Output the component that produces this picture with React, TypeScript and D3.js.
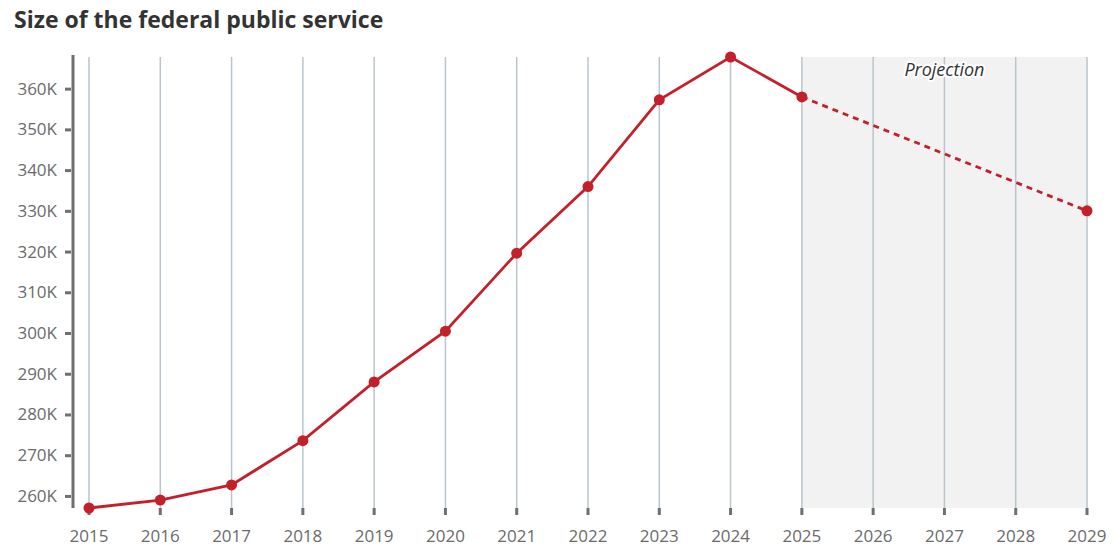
import * as d3 from "d3";
import React, { useEffect, useRef } from "react";

const years = [2015, 2016, 2017, 2018, 2019, 2020, 2021, 2022, 2023, 2024, 2025, 2026, 2027, 2028, 2029];
const actualYears = [2015, 2016, 2017, 2018, 2019, 2020, 2021, 2022, 2023, 2024, 2025];
const actualValues = [257034, 258979, 262696, 273571, 287983, 300450, 319601, 335957, 357247, 367772, 357965];
const projectionYears = [2025, 2029];
const projectionValues = [357965, 330000];
const yTicks = [260000, 270000, 280000, 290000, 300000, 310000, 320000, 330000, 340000, 350000, 360000];

const RED = "#c4202b";

export default function App() {
  const ref = useRef<SVGSVGElement>(null);

  useEffect(() => {
    const svg = d3.select(ref.current);
    svg.selectAll("*").remove();

    const margin = { top: 57, right: 33, bottom: 50, left: 73 };
    const height = 558;
    const top = margin.top;
    const bottom = height - margin.bottom;

    // title
    svg
      .append("text")
      .attr("x", 14)
      .attr("y", 28)
      .attr("font-family", "'Open Sans', sans-serif")
      .attr("font-weight", 700)
      .attr("font-size", 23)
      .attr("fill", "#333")
      .text("Size of the federal public service");

    const x = d3.scaleLinear().domain([2015, 2029]).range([89, 1087]);
    const all = actualValues.concat(projectionValues);
    const y = d3
      .scaleLinear()
      .domain([d3.min(all)!, d3.max(all)!])
      .range([bottom, top]);

    // projection shading
    svg
      .append("rect")
      .attr("x", x(2025))
      .attr("y", top)
      .attr("width", x(2029) - x(2025))
      .attr("height", bottom - top)
      .attr("fill", "#f2f2f2");

    // vertical grid
    svg
      .append("g")
      .selectAll("line")
      .data(years)
      .enter()
      .append("line")
      .attr("x1", (d) => x(d))
      .attr("x2", (d) => x(d))
      .attr("y1", top)
      .attr("y2", bottom)
      .attr("stroke", "#b9c5cd")
      .attr("stroke-width", 1.5);

    // x tick marks + labels
    const xg = svg.append("g");
    xg.selectAll("line")
      .data(years)
      .enter()
      .append("line")
      .attr("x1", (d) => x(d))
      .attr("x2", (d) => x(d))
      .attr("y1", bottom)
      .attr("y2", bottom + 7)
      .attr("stroke", "#6f6f6f")
      .attr("stroke-width", 3);
    xg.selectAll("text")
      .data(years)
      .enter()
      .append("text")
      .attr("x", (d) => x(d))
      .attr("y", bottom + 34)
      .attr("text-anchor", "middle")
      .attr("font-family", "'Open Sans', sans-serif")
      .attr("font-size", 17)
      .attr("fill", "#6b6b6b")
      .text((d) => d);

    // y axis
    const yAxis = d3
      .axisLeft(y)
      .tickValues(yTicks)
      .tickSize(6)
      .tickPadding(8)
      .tickFormat((d) => `${(d as number) / 1000}K`);
    const yg = svg.append("g").attr("transform", `translate(${margin.left - 2},0)`).call(yAxis);
    yg.select(".domain").remove();
    yg.selectAll(".tick line").attr("stroke", "#6f6f6f").attr("stroke-width", 3);
    yg.selectAll(".tick text")
      .attr("font-family", "'Open Sans', sans-serif")
      .attr("font-size", 17)
      .attr("fill", "#6b6b6b");
    svg
      .append("line")
      .attr("x1", margin.left)
      .attr("x2", margin.left)
      .attr("y1", top - 2)
      .attr("y2", bottom)
      .attr("stroke", "#6f6f6f")
      .attr("stroke-width", 3);

    // projection label
    svg
      .append("text")
      .attr("x", x(2027))
      .attr("y", 76)
      .attr("text-anchor", "middle")
      .attr("font-family", "'Open Sans', sans-serif")
      .attr("font-style", "italic")
      .attr("font-size", 18)
      .attr("fill", "#333")
      .attr("stroke", "#fff")
      .attr("stroke-width", 4)
      .attr("stroke-linejoin", "round")
      .attr("paint-order", "stroke")
      .text("Projection");

    const actual = actualYears.map((yr, i) => [yr, actualValues[i]] as [number, number]);
    const proj = projectionYears.map((yr, i) => [yr, projectionValues[i]] as [number, number]);
    const path = d3
      .line<[number, number]>()
      .x((d) => x(d[0]))
      .y((d) => y(d[1]));

    svg
      .append("path")
      .attr("d", path(proj))
      .attr("fill", "none")
      .attr("stroke", RED)
      .attr("stroke-width", 2.8)
      .attr("stroke-dasharray", "6,5");
    svg
      .append("path")
      .attr("d", path(actual))
      .attr("fill", "none")
      .attr("stroke", RED)
      .attr("stroke-width", 2.8);

    svg
      .append("g")
      .selectAll("circle")
      .data(actual.concat([proj[1]]))
      .enter()
      .append("circle")
      .attr("cx", (d) => x(d[0]))
      .attr("cy", (d) => y(d[1]))
      .attr("r", 5.5)
      .attr("fill", RED);
  }, []);

  return (
    <svg
      ref={ref}
      width={1120}
      height={558}
      style={{ position: "absolute", left: 0, top: 0, background: "#fff" }}
    />
  );
}
